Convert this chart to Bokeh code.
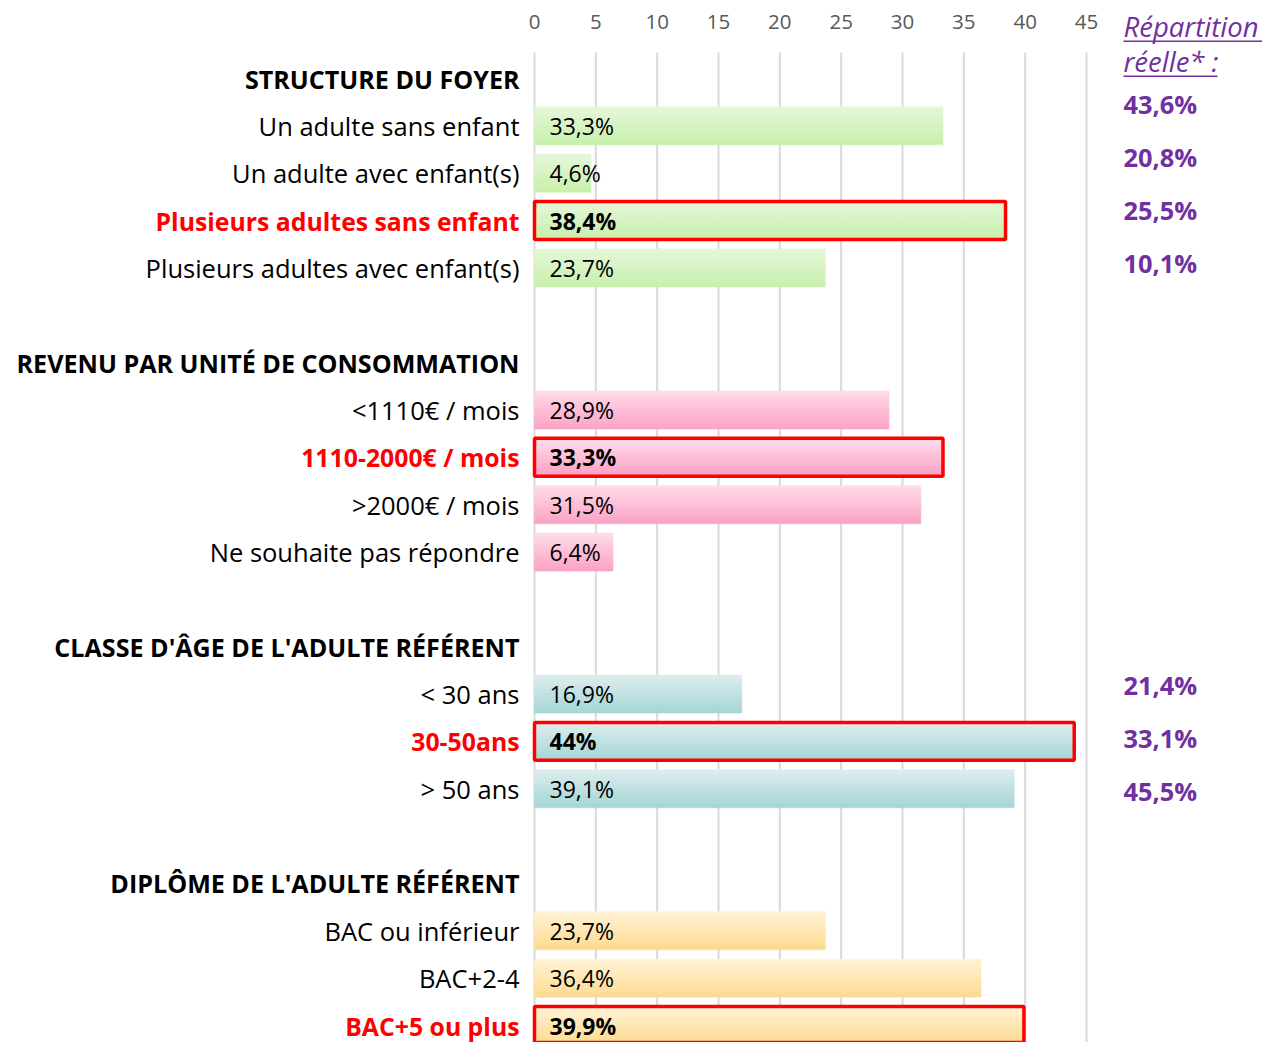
import numpy as np
from bokeh.plotting import figure
from bokeh.models import Range1d, FixedTicker, ColumnDataSource, Label, BoxAnnotation
from bokeh.core.properties import value
from bokeh.embed import file_html
from bokeh.resources import INLINE

# ---------------- data ----------------
group_titles = ["STRUCTURE DU FOYER",
                "REVENU PAR UNITÉ DE CONSOMMATION",
                "CLASSE D'ÂGE DE L'ADULTE RÉFÉRENT",
                "DIPLÔME DE L'ADULTE RÉFÉRENT"]

structure_labels = ["Un adulte sans enfant", "Un adulte avec enfant(s)",
                    "Plusieurs adultes sans enfant", "Plusieurs adultes avec enfant(s)"]
structure_values = [33.3, 4.6, 38.4, 23.7]

revenu_labels = ["<1110€ / mois", "1110-2000€ / mois", ">2000€ / mois",
                 "Ne souhaite pas répondre"]
revenu_values = [28.9, 33.3, 31.5, 6.4]

age_labels = ["< 30 ans", "30-50ans", "> 50 ans"]
age_values = [16.9, 44.0, 39.1]

diplome_labels = ["BAC ou inférieur", "BAC+2-4", "BAC+5 ou plus"]
diplome_values = [23.7, 36.4, 39.9]

highlighted = [2, 1, 1, 2]   # index of the highlighted row in each group

reel_title = ["Répartition", "réelle* :"]
reel_structure = [43.6, 20.8, 25.5, 10.1]
reel_age = [21.4, 33.1, 45.5]

x_ticks = [0, 5, 10, 15, 20, 25, 30, 35, 40, 45]

# ---------------- style ----------------
FONT = "Open Sans"
gradients = [("#e4f7d8", "#c9f0ad"),
             ("#ffdbe9", "#fba3c6"),
             ("#dcedee", "#a6d6d6"),
             ("#fff2d4", "#fedc92")]
RED = "#ff0000"
PURPLE = "#7030a0"

def lerp(c1, c2, t):
    a = np.array([int(c1[i:i + 2], 16) for i in (1, 3, 5)], float)
    b = np.array([int(c2[i:i + 2], 16) for i in (1, 3, 5)], float)
    c = a + (b - a) * t
    return "#%02x%02x%02x" % tuple(int(round(v)) for v in c)

def fmt(v):
    return ("%g" % v).replace(".", ",") + "%"

groups = [(group_titles[0], structure_labels, structure_values),
          (group_titles[1], revenu_labels, revenu_values),
          (group_titles[2], age_labels, age_values),
          (group_titles[3], diplome_labels, diplome_values)]

head_y, head_t = [], []
lab_y, lab_t, lab_c, lab_w, lab_s = [], [], [], [], []
val_y, val_t, val_w = [], [], []
stripe_y, stripe_r, stripe_c = [], [], []
box_y, box_r = [], []
N_STRIPES = 14
BAR_H = 0.8
slot = 0
for gi, (title, labels, vals) in enumerate(groups):
    head_y.append(slot)
    head_t.append(title)
    slot += 1
    top, bot = gradients[gi]
    for i, (lab, v) in enumerate(zip(labels, vals)):
        hi = (i == highlighted[gi])
        lab_y.append(slot); lab_t.append(lab)
        lab_c.append(RED if hi else "#000000")
        lab_w.append("bold" if hi else "normal")
        lab_s.append("24.8px" if hi else "25.5px")
        val_y.append(slot); val_t.append(fmt(v)); val_w.append("bold" if hi else "normal")
        for s in range(N_STRIPES):
            t = s / (N_STRIPES - 1)
            stripe_y.append(slot - BAR_H / 2 + (s + 0.5) * BAR_H / N_STRIPES)
            stripe_r.append(v)
            stripe_c.append(lerp(top, bot, t))
        if hi:
            box_y.append(slot); box_r.append(v)
        slot += 1
    slot += 1

# ---------------- figure ----------------
K = 552.0 / 45.0            # px per unit
x0 = 534.0                  # canvas x of value 0
W, H = 1262, 1042
xl = (0 - x0) / K
xr = (W - x0) / K
SLOT = 47.35
Y0 = 78.0                   # canvas y of slot 0
y_top = (0 - Y0) / SLOT
y_bot = (H - Y0) / SLOT

p = figure(width=W, height=H, x_range=Range1d(xl, xr), y_range=Range1d(y_bot, y_top),
           x_axis_location="above", y_axis_location=None,
           toolbar_location=None, output_backend="svg",
           min_border_left=0, min_border_right=0, min_border_bottom=0,
           min_border_top=0)
p.outline_line_color = None
p.background_fill_color = "white"
p.border_fill_color = "white"

ax = p.xaxis[0]
ax.ticker = FixedTicker(ticks=x_ticks)
ax.axis_line_color = None
ax.major_tick_line_color = None
ax.minor_tick_line_color = None
ax.major_tick_out = 0
ax.major_tick_in = 0
ax.major_label_standoff = -28
ax.major_label_text_font = FONT
ax.major_label_text_font_size = "20.5px"
ax.major_label_text_color = "#595959"

p.xgrid.visible = False
p.ygrid.visible = False
# vertical grid lines, starting just below the tick labels
grid_y0 = (52 - Y0) / SLOT
p.segment(x0=x_ticks, x1=x_ticks, y0=[grid_y0] * len(x_ticks), y1=[y_bot] * len(x_ticks),
          line_color="#d9d9d9", line_width=2, level="underlay")

# bars (vertical gradient via stripes)
src = ColumnDataSource(dict(y=stripe_y, right=stripe_r, color=stripe_c))
p.hbar(y="y", left=0, right="right", height=BAR_H / N_STRIPES + 0.002,
       fill_color="color", line_color="color", line_width=0.6, source=src)

# highlight boxes
p.hbar(y=box_y, left=0, right=box_r, height=BAR_H, fill_color=None,
       line_color=RED, line_width=3.5)

# value labels
p.text(x=[15.0 / K] * len(val_y), y=val_y, text=val_t,
       text_font=value(FONT), text_font_size="23px", text_color="#000000",
       text_font_style=val_w, text_align="left", text_baseline="middle")

# category labels
lx = (519 - x0) / K
p.text(x=[lx] * len(lab_y), y=lab_y, text=lab_t, text_color=lab_c,
       text_font_style=lab_w, text_font=value(FONT), text_font_size=lab_s,
       text_align="right", text_baseline="middle")
p.text(x=[lx] * len(head_y), y=head_y, text=head_t, text_color="#000000",
       text_font_style="bold", text_font=value(FONT), text_font_size="25.1px",
       text_align="right", text_baseline="middle")

# right column: real distribution
rx = (1123 - x0) / K
ry_struct = [(106 + 53 * i - 81) / SLOT for i in range(len(reel_structure))]
ry_age = [(687 + 53 * i - 81) / SLOT for i in range(len(reel_age))]
p.text(x=[rx] * (len(ry_struct) + len(ry_age)), y=ry_struct + ry_age,
       text=[fmt(v) for v in reel_structure + reel_age],
       text_color=PURPLE, text_font_style="bold", text_font=value(FONT),
       text_font_size="25.4px", text_align="left", text_baseline="middle")

for t, ypage in zip(reel_title, [26, 61]):
    p.add_layout(Label(x=1123, y=H - ypage, x_units="screen", y_units="screen",
                       text=t, text_color=PURPLE, text_font_style="italic",
                       text_font=FONT, text_font_size="27.5px",
                       text_align="left", text_baseline="middle"))
for (xa, xb, ypage) in [(1123, 1262, 40), (1123, 1217, 75)]:
    p.add_layout(BoxAnnotation(left=xa, right=xb,
                               top=H - ypage, bottom=H - ypage - 1.5,
                               left_units="screen", right_units="screen",
                               top_units="screen", bottom_units="screen",
                               fill_color=PURPLE, fill_alpha=1.0, line_color=None))

open("out.html", "w").write(file_html(p, INLINE))
